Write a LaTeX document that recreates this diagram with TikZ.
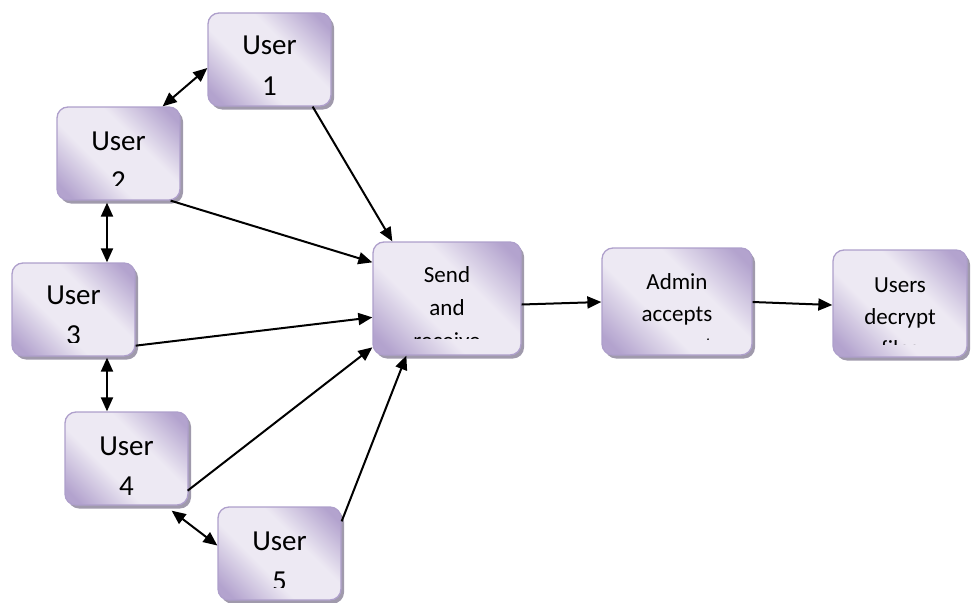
\documentclass[tikz,border=0pt]{standalone}
\usepackage{fontspec}
\setmainfont{Carlito}
\usetikzlibrary{arrows.meta,shadows,calc}
\definecolor{boxedge}{HTML}{AE9FCB}
\definecolor{boxdark}{HTML}{B3A3CE}
\definecolor{boxlight}{HTML}{EDE9F3}
\definecolor{boxshadow}{HTML}{A09AAC}
\pgfdeclareverticalshading{boxshade}{100bp}{color(0bp)=(boxdark); color(20bp)=(boxdark); color(40bp)=(boxlight); color(60bp)=(boxlight); color(80bp)=(boxdark); color(100bp)=(boxdark)}
\tikzset{
  box/.style={draw=boxedge, line width=1.3pt, rounded corners=11pt,
    shading=boxshade, shading angle=-45,
    drop shadow={shadow xshift=3pt, shadow yshift=-3.5pt, fill=boxshadow, opacity=1},
    inner sep=0pt},
  boxtext/.style n args={5}{path picture={
     \clip (path picture bounding box.north west) rectangle ($(path picture bounding box.south east)+(0,-#5)$);
     \node[anchor=base, inner sep=0pt, text=black, font=\fontsize{#2}{#3}\selectfont]
       at ($(path picture bounding box.north)+(0,#4)$) {\begin{tabular}[t]{@{}c@{}}#1\end{tabular}};
  }},
  link/.style={line width=2pt, -{Triangle[length=14pt,width=12pt]}},
  dlink/.style={line width=2pt, {Triangle[length=14pt,width=12pt]}-{Triangle[length=14pt,width=12pt]}}
}
\begin{document}
\begin{tikzpicture}[x=1pt,y=-1pt]
\useasboundingbox (0,0) rectangle (971,602);
\node[box, minimum width=123, minimum height=93, boxtext={User\\1}{29}{40}{42}{12}] (u1) at (269.5,59.5) {};
\node[box, minimum width=123, minimum height=93, boxtext={User\\2}{29}{40}{43}{15}] (u2) at (118.5,153.5) {};
\node[box, minimum width=123, minimum height=93, boxtext={User\\3}{29}{40}{41}{14}] (u3) at (73.5,309.5) {};
\node[box, minimum width=123, minimum height=93, boxtext={User\\4}{29}{40}{43}{9}] (u4) at (126.5,458.5) {};
\node[box, minimum width=123, minimum height=93, boxtext={User\\5}{29}{40}{43}{13}] (u5) at (279.5,553.5) {};
\node[box, minimum width=148, minimum height=113, boxtext={Send\\and\\receive}{23}{33}{40}{17}] (send) at (447,298.5) {};
\node[box, minimum width=150, minimum height=107, boxtext={Admin\\accepts\\request}{23}{32}{41}{16}] (admin) at (677,301.5) {};
\node[box, minimum width=134, minimum height=107, boxtext={Users\\decrypt\\files}{23}{32}{42}{13}] (users) at (900,303.5) {};

\draw[link] ($(u1.south east)+(-19,0)$) -- ($(send.north west)+(20,0)$);
\draw[link] ($(u2.south east)+(-10,0)$) -- ($(send.north west)+(0,21)$);
\draw[link] ($(u3.south east)+(0,-11)$) -- ($(send.north west)+(0,76)$);
\draw[link] ($(u4.south east)+(-1,-15)$) -- ($(send.north west)+(0,106)$);
\draw[link] ($(u5.north east)+(0,15)$) -- ($(send.south west)+(34,0)$);
\draw[link] ($(send.east)+(0,6)$) -- ($(admin.west)+(0,0.5)$);
\draw[link] ($(admin.east)+(0,0.5)$) -- ($(users.west)+(0,1.5)$);

\draw[dlink] ($(u1.west)+(0,8.5)$) -- ($(u2.north east)+(-18,0)$);
\draw[dlink] ($(u2.south)+(-11.5,2)$) -- ($(u3.north)+(33.5,0)$);
\draw[dlink] ($(u3.south)+(33.5,1)$) -- ($(u4.north)+(-19.5,0)$);
\draw[dlink] ($(u4.south east)+(-17,5)$) -- ($(u5.west)+(0,-8)$);
\end{tikzpicture}
\end{document}
